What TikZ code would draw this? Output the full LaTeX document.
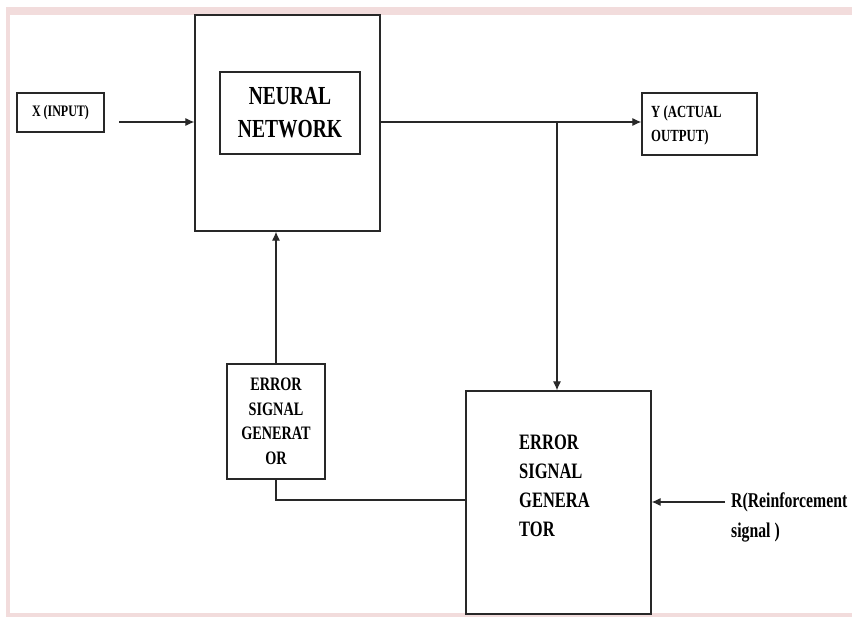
\documentclass[tikz,border=0pt]{standalone}
\usepackage{fontspec}
\setmainfont{Liberation Serif}
\newfontfamily\nf[FakeStretch=0.75]{Liberation Serif}
\usetikzlibrary{arrows.meta}
\definecolor{framepink}{RGB}{242,220,220}
\definecolor{ln}{RGB}{40,40,40}
\begin{document}
\begin{tikzpicture}[x=1pt,y=-1pt,
  box/.style={draw=ln,line width=1.2pt,inner sep=0pt,fill=white},
  conn/.style={draw=ln,line width=1.1pt},
  arr/.style={conn,-{Latex[length=9pt,width=8pt]}},
  lbl/.style={inner sep=0pt,text=black}]
\useasboundingbox (0,0) rectangle (852,617);
\fill[white] (0,0) rectangle (852,617);
\fill[framepink] (6,7) rectangle (852,617);
\fill[white] (10,15) rectangle (852,613);

% boxes
\node[box,minimum width=87pt,minimum height=39pt,font=\nf\bfseries\fontsize{16}{18}\selectfont] (xin) at (60.5,112.5)
  {X (INPUT)};
\node[box,minimum width=185pt,minimum height=216pt] (nn) at (287.5,123) {};
\node[box,minimum width=140pt,minimum height=82pt,align=center,font=\nf\bfseries\fontsize{26}{33}\selectfont] (nninner) at (290,113)
  {NEURAL\\NETWORK};
\node[box,minimum width=115pt,minimum height=62pt] (yout) at (699.5,124) {};
\node[lbl,anchor=west,align=left,font=\nf\bfseries\fontsize{17}{24}\selectfont] (ytxt) at (651,125) {Y (ACTUAL\\OUTPUT)};
\node[box,minimum width=98pt,minimum height=115pt,align=center,font=\nf\bfseries\fontsize{19}{24.5}\selectfont] (small) at (276,421.5)
  {ERROR\\SIGNAL\\GENERAT\\OR};
\node[box,minimum width=185pt,minimum height=223pt] (big) at (558.5,502.5) {};
\node[lbl,anchor=west,align=left,font=\nf\bfseries\fontsize{22}{29}\selectfont] (bigtxt) at (519,486)
  {ERROR\\SIGNAL\\GENERA\\TOR};
\node[lbl,anchor=west,align=left,font=\nf\bfseries\fontsize{21}{30}\selectfont] (rtxt) at (731,517)
  {R(Reinforcement\\signal )};

% connectors
\coordinate (xa) at (119,122);
\draw[arr] (xa) -- (xa -| nn.west);
\coordinate (split) at (557,122);
\draw[arr] (split -| nn.east) -- (split -| yout.west);
\draw[arr] (split) -- (split |- big.north);
\draw[arr] (small.north) -- (small.north |- nn.south);
\coordinate (fb) at (466,500);
\draw[conn] (small.south) |- (fb);
\coordinate (ra) at (725,502);
\draw[arr] (ra) -- (ra -| big.east);
\end{tikzpicture}
\end{document}
